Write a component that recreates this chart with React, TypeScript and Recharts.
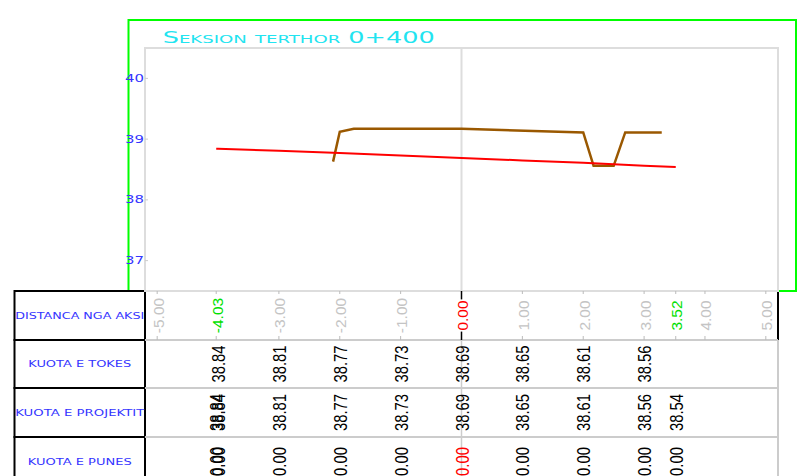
import React from 'react';
import { ComposedChart, Line, XAxis, YAxis, ReferenceLine, ReferenceArea } from 'recharts';

// ---------- data ----------
const chartTitle = 'Seksion terthor 0+400';
const rowTitles = ['DISTANCA NGA AKSI', 'KUOTA E TOKES', 'KUOTA E PROJEKTIT', 'KUOTA E PUNES'];
const yTicks = [37, 38, 39, 40];
const xDomain: [number, number] = [-5.2, 5.2];
const yDomain: [number, number] = [36.5, 40.5];

const distanceTicks = [-5, -4.03, -3, -2, -1, 0, 1, 2, 3, 3.52, 4, 5];
const edgeStations = [-4.03, 3.52];

const tokesStations = [-4, -3, -2, -1, 0, 1, 2, 3];
const tokesValues = [38.84, 38.81, 38.77, 38.73, 38.69, 38.65, 38.61, 38.56];

const projStations = [-4.03, -4, -3, -2, -1, 0, 1, 2, 3, 3.52];
const projValues = [38.84, 38.84, 38.81, 38.77, 38.73, 38.69, 38.65, 38.61, 38.56, 38.54];

const punesStations = [-4.03, -4, -3, -2, -1, 0, 1, 2, 3, 3.52];
const punesValues = [0, 0, 0, 0, 0, 0, 0, 0, 0, 0];

const terrainX = [-2.11, -2.0, -1.77, 0, 2.0, 2.17, 2.5, 2.69, 3.29];
const terrainY = [38.63, 39.12, 39.17, 39.17, 39.11, 38.56, 38.56, 39.11, 39.11];

// ---------- layout ----------
const W = 798;
const H = 476;
const MARGIN = { top: 48, right: 20, bottom: 0, left: 0 };
const Y_AXIS_W = 145;
const PLOT_H = 243;
const ROW_H = [49, 48, 49, 39];
const HEADER_LEFT = 14.5;
const BLUE = '#3535ff';
const GREEN = '#00ff00';

const projectData = projStations.map((x, i) => ({ x, y: projValues[i] }));
const terrainData = terrainX.map((x, i) => ({ x, y: terrainY[i] }));

const tableRows = [
  { ticks: distanceTicks, values: distanceTicks },
  { ticks: tokesStations, values: tokesValues },
  { ticks: projStations, values: projValues },
  { ticks: punesStations, values: punesValues },
];

function colorFor(row: number, station: number): string {
  if (row === 0) {
    if (station === 0) return '#ff0000';
    if (edgeStations.includes(station)) return '#00e000';
    return '#c4c4c4';
  }
  if (row === 3 && station === 0) return '#ff0000';
  return '#000000';
}

function naturalWidth(s: string): number {
  let w = 0;
  for (const c of s) w += c === '.' ? 0.278 : c === '-' ? 0.333 : 0.556;
  return w;
}

function makeTick(row: number) {
  const rh = row === 3 ? 49 : ROW_H[row];
  const { ticks, values } = tableRows[row];
  const fs = row === 0 ? 15.5 : 17.5;
  const squeeze = row === 0 ? 1 : 0.85;
  return (props: any) => {
    const { x, y, payload } = props;
    const st = payload.value as number;
    const idx = ticks.indexOf(st);
    const val = idx >= 0 ? values[idx] : st;
    const label = Number(val).toFixed(2);
    const cx = x + 1;
    const cy = y + rh / 2;
    const tl = naturalWidth(label) * fs * squeeze;
    return (
      <g>
        {st === 0 && row === 0 && (
          <>
            <line x1={x} x2={x} y1={y} y2={cy - tl / 2 - 1} stroke="#000" strokeWidth={1.5} />
            <line x1={x} x2={x} y1={cy + tl / 2 + 1} y2={y + rh} stroke="#000" strokeWidth={1.5} />
          </>
        )}
        {st === 0 && row !== 0 && (
          <line x1={x} x2={x} y1={y} y2={y + rh} stroke="#cccccc" strokeWidth={1.5} />
        )}
        {row === 0 && st !== 0 && (
          <>
            <line x1={x} x2={x} y1={y} y2={y + 3} stroke="#bbb" />
            <line x1={x} x2={x} y1={y + rh - 4} y2={y + rh} stroke="#bbb" />
          </>
        )}
        <text
          x={cx}
          y={cy}
          transform={`rotate(-90, ${cx}, ${cy})`}
          textAnchor="middle"
          dominantBaseline="central"
          textLength={tl}
          lengthAdjust="spacingAndGlyphs"
          fontFamily="'Liberation Sans', Arial, sans-serif"
          fontSize={fs}
          fill={colorFor(row, st)}
        >
          {label}
        </text>
      </g>
    );
  };
}

const YTick = (props: any) => {
  const { y, payload } = props;
  return (
    <g>
      <line x1={145} x2={148} y1={y} y2={y} stroke="#cccccc" />
      <text
        x={125}
        y={y + 3.5}
        textLength={19}
        lengthAdjust="spacingAndGlyphs"
        fontFamily="'DejaVu Sans', sans-serif"
        fontSize={10}
        fill={BLUE}
      >
        {String(payload.value)}
      </text>
    </g>
  );
};

const headerLengths = [129, 103, 129, 104];

export default function App() {
  const plotLeft = MARGIN.left + Y_AXIS_W;
  const plotRight = W - MARGIN.right;
  const tableTop = MARGIN.top + PLOT_H;
  const rowTops = [tableTop, tableTop + ROW_H[0], tableTop + ROW_H[0] + ROW_H[1], tableTop + ROW_H[0] + ROW_H[1] + ROW_H[2]];
  const fullRowH = [49, 48, 49, 49];

  return (
    <div style={{ position: 'absolute', left: 0, top: 0, width: W, height: H, background: '#fff' }}>
      <ComposedChart width={W} height={H} margin={MARGIN}>
        <ReferenceArea
          xAxisId="r0"
          x1={xDomain[0]}
          x2={xDomain[1]}
          y1={yDomain[0]}
          y2={yDomain[1]}
          fill="none"
          stroke="#dddddd"
          strokeWidth={2}
          ifOverflow="visible"
        />
        <ReferenceLine xAxisId="r0" x={0} stroke="#dddddd" strokeWidth={2} />
        {tableRows.map((r, i) => (
          <XAxis
            key={i}
            xAxisId={`r${i}`}
            type="number"
            dataKey="x"
            domain={xDomain}
            allowDataOverflow
            ticks={r.ticks}
            interval={0}
            height={ROW_H[i]}
            tickSize={0}
            tickMargin={0}
            tickLine={false}
            axisLine={i === 0 ? false : { stroke: '#cccccc', strokeWidth: 2 }}
            tick={makeTick(i)}
          />
        ))}
        <YAxis
          type="number"
          domain={yDomain}
          allowDataOverflow
          ticks={yTicks}
          width={Y_AXIS_W}
          tickSize={0}
          tickMargin={0}
          tickLine={false}
          axisLine={{ stroke: '#dddddd', strokeWidth: 2 }}
          tick={<YTick />}
        />
        <Line
          xAxisId="r0"
          data={terrainData}
          dataKey="y"
          type="linear"
          stroke="#9a5800"
          strokeWidth={2.5}
          dot={false}
          isAnimationActive={false}
        />
        <Line
          xAxisId="r0"
          data={projectData}
          dataKey="y"
          type="linear"
          stroke="#ff0000"
          strokeWidth={2}
          dot={false}
          isAnimationActive={false}
        />
        {/* frame */}
        <rect x={128.5} y={20} width={667.5} height={tableTop - 20} fill="none" stroke={GREEN} strokeWidth={2} />
        <text
          x={162.7}
          y={43}
          textLength={272}
          lengthAdjust="spacingAndGlyphs"
          fontFamily="'DejaVu Sans', sans-serif"
          fontSize={15.5}
          style={{ fontVariant: 'small-caps' }}
          fill="#22e4f0"
        >
          {chartTitle}
        </text>
        {/* right borders of table */}
        <line x1={plotRight} x2={plotRight} y1={rowTops[0]} y2={rowTops[1]} stroke="#000" strokeWidth={2} />
        <line x1={plotRight} x2={plotRight} y1={rowTops[1]} y2={H} stroke="#cccccc" strokeWidth={2} />
        {/* header column */}
        {rowTitles.map((t, i) => (
          <g key={t}>
            <rect
              x={HEADER_LEFT}
              y={rowTops[i]}
              width={plotLeft - HEADER_LEFT}
              height={fullRowH[i]}
              fill="#fff"
              stroke="#000"
              strokeWidth={2}
            />
            <text
              x={(HEADER_LEFT + plotLeft) / 2}
              y={rowTops[i] + fullRowH[i] / 2 + 3}
              textAnchor="middle"
              textLength={headerLengths[i]}
              lengthAdjust="spacingAndGlyphs"
              fontFamily="'DejaVu Sans', sans-serif"
              fontSize={8}
              fill={BLUE}
            >
              {t}
            </text>
          </g>
        ))}
      </ComposedChart>
    </div>
  );
}
